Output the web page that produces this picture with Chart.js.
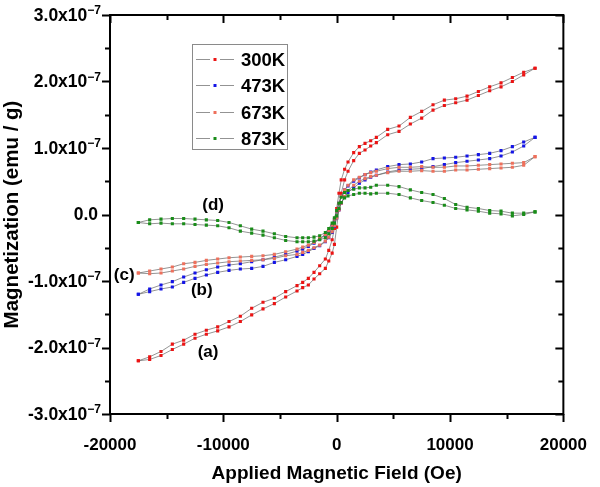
<!DOCTYPE html>
<html>
<head>
<meta charset="utf-8">
<script src="https://cdn.jsdelivr.net/npm/chart.js@4.4.1/dist/chart.umd.min.js"></script>
<style>
  html, body { margin: 0; padding: 0; background: #fff; }
  #wrap { width: 600px; height: 487px; }
</style>
</head>
<body>
<div id="wrap"><canvas id="grafico" width="600" height="487"></canvas></div>
<script>
// applied field (Oe), same steps for every temperature
const FIELD = [-17500, -16500, -15500, -14500, -13500, -12500, -11500, -10500, -9500, -8500,
  -7500, -6500, -5500, -4500, -3500, -3000, -2500, -2000, -1500, -1000, -700, -400, -200, 0,
  200, 400, 700, 1000, 1500, 2000, 2500, 3000, 3500, 4500, 5500, 6500, 7500, 8500, 9500,
  10500, 11500, 12500, 13500, 14500, 15500, 16500, 17500];

// magnetization in units of 1e-7 emu/g, listed in the same order as FIELD
// "down" = branch measured from +H to -H, "up" = from -H to +H
const M300_DOWN = [-2.20, -2.14, -2.06, -1.95, -1.89, -1.80, -1.74, -1.69, -1.61, -1.53,
  -1.41, -1.32, -1.26, -1.16, -1.07, -1.02, -0.96, -0.87, -0.77, -0.67, -0.54, -0.38, -0.21, 0.09,
  0.32, 0.52, 0.68, 0.79, 0.93, 1.02, 1.07, 1.11, 1.16, 1.28, 1.33, 1.46, 1.55, 1.65, 1.72,
  1.74, 1.78, 1.85, 1.92, 1.98, 2.06, 2.14, 2.20];
const M300_UP = [-2.20, -2.18, -2.12, -2.03, -1.95, -1.86, -1.80, -1.75, -1.69, -1.61,
  -1.51, -1.42, -1.34, -1.24, -1.15, -1.10, -1.06, -0.97, -0.89, -0.81, -0.70, -0.58, -0.45, -0.19,
  0.08, 0.32, 0.52, 0.65, 0.81, 0.92, 0.97, 1.03, 1.08, 1.20, 1.25, 1.36, 1.45, 1.57, 1.64,
  1.68, 1.72, 1.79, 1.86, 1.92, 2.00, 2.10, 2.20];

const M473_DOWN = [-1.20, -1.12, -1.06, -1.01, -0.94, -0.88, -0.83, -0.79, -0.76, -0.74,
  -0.71, -0.68, -0.64, -0.60, -0.55, -0.52, -0.48, -0.43, -0.37, -0.31, -0.25, -0.17, -0.08, 0.05,
  0.17, 0.27, 0.37, 0.43, 0.50, 0.55, 0.60, 0.64, 0.67, 0.72, 0.75, 0.76, 0.79, 0.84, 0.85,
  0.86, 0.88, 0.90, 0.92, 0.96, 1.02, 1.09, 1.16];
const M473_UP = [-1.20, -1.16, -1.12, -1.09, -1.02, -0.96, -0.91, -0.87, -0.84, -0.82,
  -0.81, -0.78, -0.72, -0.68, -0.63, -0.60, -0.56, -0.51, -0.47, -0.41, -0.35, -0.27, -0.18, -0.05,
  0.07, 0.17, 0.27, 0.33, 0.40, 0.47, 0.52, 0.56, 0.59, 0.64, 0.67, 0.68, 0.69, 0.72, 0.75,
  0.78, 0.80, 0.82, 0.84, 0.88, 0.94, 1.03, 1.16];

const M673_DOWN = [-0.88, -0.85, -0.82, -0.79, -0.74, -0.72, -0.69, -0.67, -0.65, -0.64,
  -0.63, -0.62, -0.60, -0.56, -0.52, -0.49, -0.46, -0.42, -0.36, -0.30, -0.24, -0.16, -0.07, 0.05,
  0.17, 0.27, 0.37, 0.44, 0.52, 0.56, 0.60, 0.63, 0.65, 0.69, 0.71, 0.71, 0.72, 0.71, 0.71,
  0.73, 0.73, 0.74, 0.75, 0.76, 0.77, 0.78, 0.87];
const M673_UP = [-0.88, -0.89, -0.88, -0.85, -0.82, -0.78, -0.75, -0.73, -0.71, -0.70,
  -0.69, -0.68, -0.66, -0.62, -0.60, -0.57, -0.54, -0.50, -0.46, -0.40, -0.34, -0.26, -0.17, -0.05,
  0.07, 0.17, 0.27, 0.36, 0.44, 0.50, 0.54, 0.57, 0.59, 0.63, 0.65, 0.65, 0.66, 0.65, 0.65,
  0.67, 0.67, 0.68, 0.69, 0.70, 0.71, 0.74, 0.87];

const M873_DOWN = [-0.12, -0.08, -0.07, -0.06, -0.06, -0.07, -0.08, -0.09, -0.12, -0.17,
  -0.22, -0.25, -0.29, -0.33, -0.35, -0.35, -0.35, -0.34, -0.32, -0.27, -0.21, -0.13, -0.05, 0.06,
  0.17, 0.26, 0.33, 0.36, 0.38, 0.40, 0.40, 0.41, 0.44, 0.44, 0.42, 0.37, 0.33, 0.30, 0.24,
  0.15, 0.11, 0.09, 0.06, 0.05, 0.02, 0.02, 0.04];
const M873_UP = [-0.12, -0.14, -0.13, -0.14, -0.14, -0.15, -0.16, -0.17, -0.20, -0.25,
  -0.28, -0.31, -0.35, -0.39, -0.41, -0.41, -0.41, -0.40, -0.38, -0.35, -0.29, -0.21, -0.13, -0.02,
  0.09, 0.18, 0.25, 0.28, 0.30, 0.32, 0.32, 0.31, 0.32, 0.32, 0.30, 0.25, 0.21, 0.18, 0.14,
  0.09, 0.07, 0.05, 0.02, 0.01, -0.02, 0.00, 0.04];

const TEMPS = ["300K", "473K", "673K", "873K"];
const CORES = ["rgb(235,20,20)", "rgb(20,20,230)", "rgb(238,112,92)", "rgb(25,140,25)"];
const Y_TICKS = [-3, -2, -1, 0, 1, 2, 3];
const X_TICKS = [-20000, -10000, 0, 10000, 20000];
const ROTULOS = [
  { texto: "(a)", x: -11350, y: -2.07 },
  { texto: "(b)", x: -11900, y: -1.14 },
  { texto: "(c)", x: -18750, y: -0.91 },
  { texto: "(d)", x: -10900, y: 0.14 }
];

const FONTE = '"Liberation Sans", Arial, sans-serif';

// loop: down branch from +H to -H, then up branch back to +H
function montarLaco(down, up) {
  const pts = [];
  for (let i = FIELD.length - 1; i >= 0; i--) pts.push({ x: FIELD[i], y: down[i] });
  for (let i = 0; i < FIELD.length; i++) pts.push({ x: FIELD[i], y: up[i] });
  return pts;
}

const lacos = [
  montarLaco(M300_DOWN, M300_UP),
  montarLaco(M473_DOWN, M473_UP),
  montarLaco(M673_DOWN, M673_UP),
  montarLaco(M873_DOWN, M873_UP)
];

// ====== frame, ticks, y labels, legend, (a)-(d) ======
const extras = {
  id: "extras",
  afterDraw(chart) {
    const ctx = chart.ctx;
    const { left, right, top, bottom } = chart.chartArea;
    const xs = chart.scales.x;
    const ys = chart.scales.y;
    ctx.save();

    ctx.strokeStyle = "#000";
    ctx.lineWidth = 2;
    ctx.strokeRect(left, top, right - left, bottom - top);

    // x ticks: outward at bottom, inward at top
    for (let v = -20000; v <= 20000; v += 5000) {
      const px = Math.round(xs.getPixelForValue(v)) + 0.5;
      const len = v % 10000 === 0 ? 8 : 5;
      ctx.beginPath();
      ctx.moveTo(px, bottom); ctx.lineTo(px, bottom + len);
      ctx.moveTo(px, top); ctx.lineTo(px, top + len);
      ctx.stroke();
    }
    // y ticks: outward at left, inward at right
    for (let v = -3; v <= 3; v += 0.5) {
      const py = Math.round(ys.getPixelForValue(v)) + 0.5;
      const len = Number.isInteger(v) ? 8 : 5;
      ctx.beginPath();
      ctx.moveTo(left, py); ctx.lineTo(left - len, py);
      ctx.moveTo(right, py); ctx.lineTo(right - len, py);
      ctx.stroke();
    }

    // y tick labels with superscript exponent
    ctx.fillStyle = "#000";
    ctx.textBaseline = "middle";
    ctx.textAlign = "right";
    Y_TICKS.forEach(v => {
      const py = ys.getPixelForValue(v);
      if (v === 0) {
        ctx.font = "bold 17.5px " + FONTE;
        ctx.fillText("0.0", 98, py + 1);
        return;
      }
      ctx.font = "bold 12px " + FONTE;
      const sup = "\u22127";
      ctx.fillText(sup, 101, py - 4);
      const w = ctx.measureText(sup).width;
      ctx.font = "bold 17.5px " + FONTE;
      ctx.fillText(v.toFixed(1) + "x10", 101 - w, py + 1);
    });

    // legend
    ctx.lineWidth = 1;
    ctx.strokeStyle = "#8a8a8a";
    ctx.strokeRect(192.5, 44.5, 95, 105);
    TEMPS.forEach((t, i) => {
      const ly = Math.round(59 + i * 26.3) + 0.5;
      ctx.strokeStyle = "#777";
      ctx.lineWidth = 0.8;
      ctx.beginPath();
      ctx.moveTo(196, ly); ctx.lineTo(210, ly);
      ctx.moveTo(220, ly); ctx.lineTo(234, ly);
      ctx.stroke();
      ctx.fillStyle = CORES[i];
      ctx.fillRect(213.5, ly - 1.5, 3, 3);
      ctx.fillStyle = "#000";
      ctx.textAlign = "left";
      ctx.font = "bold 18.5px " + FONTE;
      ctx.fillText(t, 241, ly + 1);
    });

    // curve labels
    ctx.textAlign = "center";
    ctx.font = "bold 17px " + FONTE;
    ROTULOS.forEach(r => {
      ctx.fillText(r.texto, xs.getPixelForValue(r.x), ys.getPixelForValue(r.y));
    });

    ctx.restore();
  }
};

new Chart(document.getElementById("grafico"), {
  type: "scatter",
  data: {
    datasets: TEMPS.map((t, i) => ({
      label: t,
      data: lacos[i],
      showLine: true,
      borderColor: "#666",
      borderWidth: 0.7,
      pointStyle: "rect",
      pointRadius: 2.2,
      pointBorderWidth: 0,
      pointBackgroundColor: CORES[i],
      pointBorderColor: CORES[i],
      order: TEMPS.length - i
    }))
  },
  options: {
    responsive: false,
    animation: false,
    layout: { padding: { left: 0, right: 28, top: 15, bottom: 0 } },
    plugins: {
      legend: { display: false },
      tooltip: { enabled: false }
    },
    scales: {
      x: {
        type: "linear",
        min: -20000,
        max: 20000,
        afterBuildTicks: s => { s.ticks = X_TICKS.map(v => ({ value: v })); },
        afterFit: s => { s.height = 73; },
        grid: { display: false },
        border: { display: false },
        ticks: {
          color: "#000",
          padding: 13,
          maxRotation: 0,
          autoSkip: false,
          font: { family: FONTE, size: 17, weight: "bold" },
          callback: v => String(v)
        },
        title: {
          display: true,
          text: "Applied Magnetic Field (Oe)",
          color: "#000",
          padding: { top: 0, bottom: 2 },
          font: { family: FONTE, size: 19, weight: "bold" }
        }
      },
      y: {
        type: "linear",
        min: -3,
        max: 3,
        afterFit: s => { s.width = 110; },
        grid: { display: false },
        border: { display: false },
        ticks: { display: false },
        title: {
          display: true,
          text: "Magnetization (emu / g)",
          color: "#000",
          padding: { top: 0, bottom: 0 },
          font: { family: FONTE, size: 20.5, weight: "bold" }
        }
      }
    }
  },
  plugins: [extras]
});
</script>
</body>
</html>
